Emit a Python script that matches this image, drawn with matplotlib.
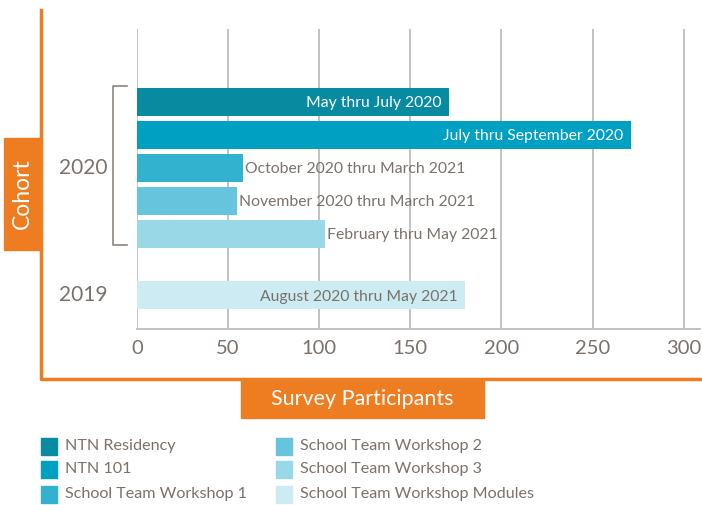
import matplotlib
matplotlib.use("Agg")
import matplotlib.pyplot as plt
from matplotlib.patches import Rectangle
from matplotlib.lines import Line2D

plt.rcParams['font.family'] = ['Lato', 'DejaVu Sans']

# ---- data ----
series = ["NTN Residency", "NTN 101", "School Team Workshop 1",
          "School Team Workshop 2", "School Team Workshop 3",
          "School Team Workshop Modules"]
values = [171, 271, 58, 55, 103, 180]
periods = ["May thru July 2020", "July thru September 2020",
           "October 2020 thru March 2021", "November 2020 thru March 2021",
           "February thru May 2021", "August 2020 thru May 2021"]
cohorts = ["2020", "2020", "2020", "2020", "2020", "2019"]
cohort_labels = ["2020", "2019"]
xticks = [0, 50, 100, 150, 200, 250, 300]
colors = ["#088BA0", "#00A0C3", "#33B2D0", "#66C5DC", "#99D8E7", "#CCEBF3"]

# ---- layout ----
W, H = 702, 505
fig = plt.figure(figsize=(W / 100, H / 100), dpi=100)
TXT = "#7B716A"
ORANGE = "#EE7D22"

def fx(px): return px / W
def fy(py): return 1 - py / H

ax = fig.add_axes([fx(137), fy(329), fx(700) - fx(137), fy(29) - fy(329)])
ypos = [0, 1, 2, 3, 4, 5.88]
ax.barh(ypos, values, height=0.85, color=colors, zorder=3)
ax.set_xlim(0, 309)
ax.set_ylim(6.9, -2.22)
ax.set_xticks(xticks)
ax.set_xticklabels([str(t) for t in xticks], fontsize=14.5, color=TXT)
ax.tick_params(axis='x', length=0, pad=8)
ax.set_yticks([])
for t in xticks:
    ax.axvline(t, color="#BDBDBD", lw=1.3, zorder=1)
for s in ["top", "right", "left"]:
    ax.spines[s].set_visible(False)
ax.spines["bottom"].set_color("#BDBDBD")
ax.spines["bottom"].set_linewidth(1.3)

inside = [True, True, False, False, False, True]
for y, v, lab, ins, c in zip(ypos, values, periods, inside, colors):
    if ins:
        col = "white" if c in colors[:2] else TXT
        ax.text(v - 4, y + 0.04, lab, ha="right", va="center", fontsize=11.3, color=col, zorder=4)
    else:
        ax.text(v + 1.2, y + 0.04, lab, ha="left", va="center", fontsize=11.3, color=TXT, zorder=4)

# cohort labels
ax.text(-16, 2, cohort_labels[0], ha="right", va="center", fontsize=15, color=TXT,
        transform=ax.transData)
ax.text(-16, 5.88, cohort_labels[1], ha="right", va="center", fontsize=15, color=TXT,
        transform=ax.transData)

# bracket
bx0, bx1 = fx(113), fx(127)
by0, by1 = fy(86), fy(245)
fig.add_artist(Line2D([bx1, bx0, bx0, bx1], [by0, by0, by1, by1], color="#8C837C", lw=1.2))

# orange frame
fig.add_artist(Line2D([fx(41), fx(41), fx(702)], [fy(10), fy(379), fy(379)], color=ORANGE, lw=2.5))
fig.add_artist(Rectangle((fx(4), fy(250)), fx(41) - fx(4), fy(138) - fy(250), color=ORANGE))
fig.text(fx(22.5), fy(194), "Cohort", rotation=90, ha="center", va="center",
         fontsize=16.5, color="white")
fig.add_artist(Rectangle((fx(241), fy(418)), fx(484) - fx(241), fy(379) - fy(418), color=ORANGE))
fig.text(fx(362), fy(399), "Survey Participants", ha="center", va="center",
         fontsize=15.5, color="white")

# legend
rows = [446, 469, 494]
for i, (name, c) in enumerate(zip(series, colors)):
    col = i // 3
    r = i % 3
    x0 = 41 if col == 0 else 276
    fig.add_artist(Rectangle((fx(x0), fy(rows[r] + 8.5)), fx(16), fy(0) - fy(17), color=c))
    fig.text(fx(x0 + 24), fy(rows[r]), name, ha="left", va="center", fontsize=11.6, color=TXT)

fig.savefig("out.png", dpi=100)
